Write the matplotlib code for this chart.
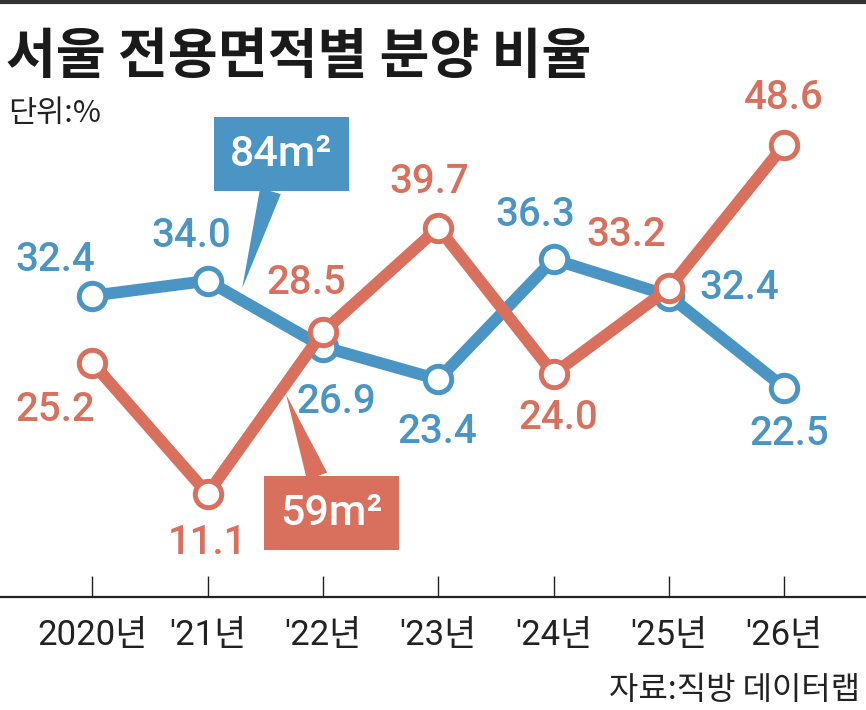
import matplotlib.pyplot as plt
from matplotlib.lines import Line2D

years = ["2020년", "'21년", "'22년", "'23년", "'24년", "'25년", "'26년"]
size84 = [32.4, 34.0, 26.9, 23.4, 36.3, 32.4, 22.5]
size59 = [25.2, 11.1, 28.5, 39.7, 24.0, 33.2, 48.6]

# label offsets in pixels (dx, dy) relative to each point
off84 = [(-37, 36), (-16, 45), (13, -55), (-1, -53), (-18, 44), (70, 8), (5, -46)]
off59 = [(-37, -47), (0, -49), (-17, 49), (-9, 46), (5, -44), (-43, 53), (0, 47)]

BLUE = "#4a95c4"
RED = "#d9705e"
NUM = ["Roboto", "Noto Sans CJK KR"]
KR = ["Noto Sans CJK KR", "DejaVu Sans"]

W, H = 866, 710
fig = plt.figure(figsize=(W / 100, H / 100), dpi=100)
ax = fig.add_axes([0, 1 - 597 / H, 1, 55 * 9.3 / H])
ax.set_xlim(-0.8, 6.709)
ax.set_ylim(0, 55)
for s in ("top", "right", "left"):
    ax.spines[s].set_visible(False)
ax.spines["bottom"].set_color("#222222")
ax.spines["bottom"].set_linewidth(1.6)
ax.set_yticks([])
xs = list(range(len(years)))
ax.set_xticks(xs)
ax.set_xticklabels([])
ax.tick_params(axis="x", direction="in", length=15, width=1.0, color="#222222")

for i, lab in enumerate(years):
    ax.annotate(lab, (i, 0), xytext=(0, -39), textcoords="offset pixels",
                ha="center", va="center", fontsize=25, family=NUM, color="#222222")

for vals, col, offs in ((size84, BLUE, off84), (size59, RED, off59)):
    ax.plot(xs, vals, color=col, lw=8.5, solid_capstyle="round", zorder=3,
            marker="o", ms=19, mfc="white", mec=col, mew=3.6)
    for i, v in enumerate(vals):
        ax.annotate(f"{v:.1f}", (i, v), xytext=offs[i], textcoords="offset pixels",
                    ha="center", va="center", fontsize=29, fontweight="medium",
                    family=NUM, color=col, zorder=5)

# callout boxes
ax.annotate("84m²", xy=(1.3, 33.2), xytext=(39, 134), textcoords="offset pixels",
            ha="center", va="center", fontsize=31, fontweight="medium", family=NUM,
            color="white", zorder=6,
            bbox=dict(boxstyle="square,pad=0.38", fc=BLUE, ec="none"),
            arrowprops=dict(arrowstyle="wedge,tail_width=0.5,shrink_factor=0.5",
                            fc=BLUE, ec="none", shrinkA=0, shrinkB=0))
ax.annotate("59m²", xy=(1.68, 21.8), xytext=(45, -119), textcoords="offset pixels",
            ha="center", va="center", fontsize=31, fontweight="medium", family=NUM,
            color="white", zorder=6,
            bbox=dict(boxstyle="square,pad=0.38", fc=RED, ec="none"),
            arrowprops=dict(arrowstyle="wedge,tail_width=0.5,shrink_factor=0.5",
                            fc=RED, ec="none", shrinkA=0, shrinkB=0))

fig.add_artist(Line2D([0, 1], [1 - 1.5 / H, 1 - 1.5 / H], color="#333333", lw=3))
fig.text(6 / W, 1 - 57 / H, "서울 전용면적별 분양 비율", fontsize=39, fontweight="bold",
         family=KR, color="#1a1a1a", va="center", ha="left")
fig.text(8 / W, 1 - 113 / H, "단위:%", fontsize=22, family=KR, color="#222222",
         va="center", ha="left")
fig.text(860 / W, 1 - 690 / H, "자료:직방 데이터랩", fontsize=23, family=KR,
         color="#222222", va="center", ha="right")

fig.savefig("out.png", dpi=100)
